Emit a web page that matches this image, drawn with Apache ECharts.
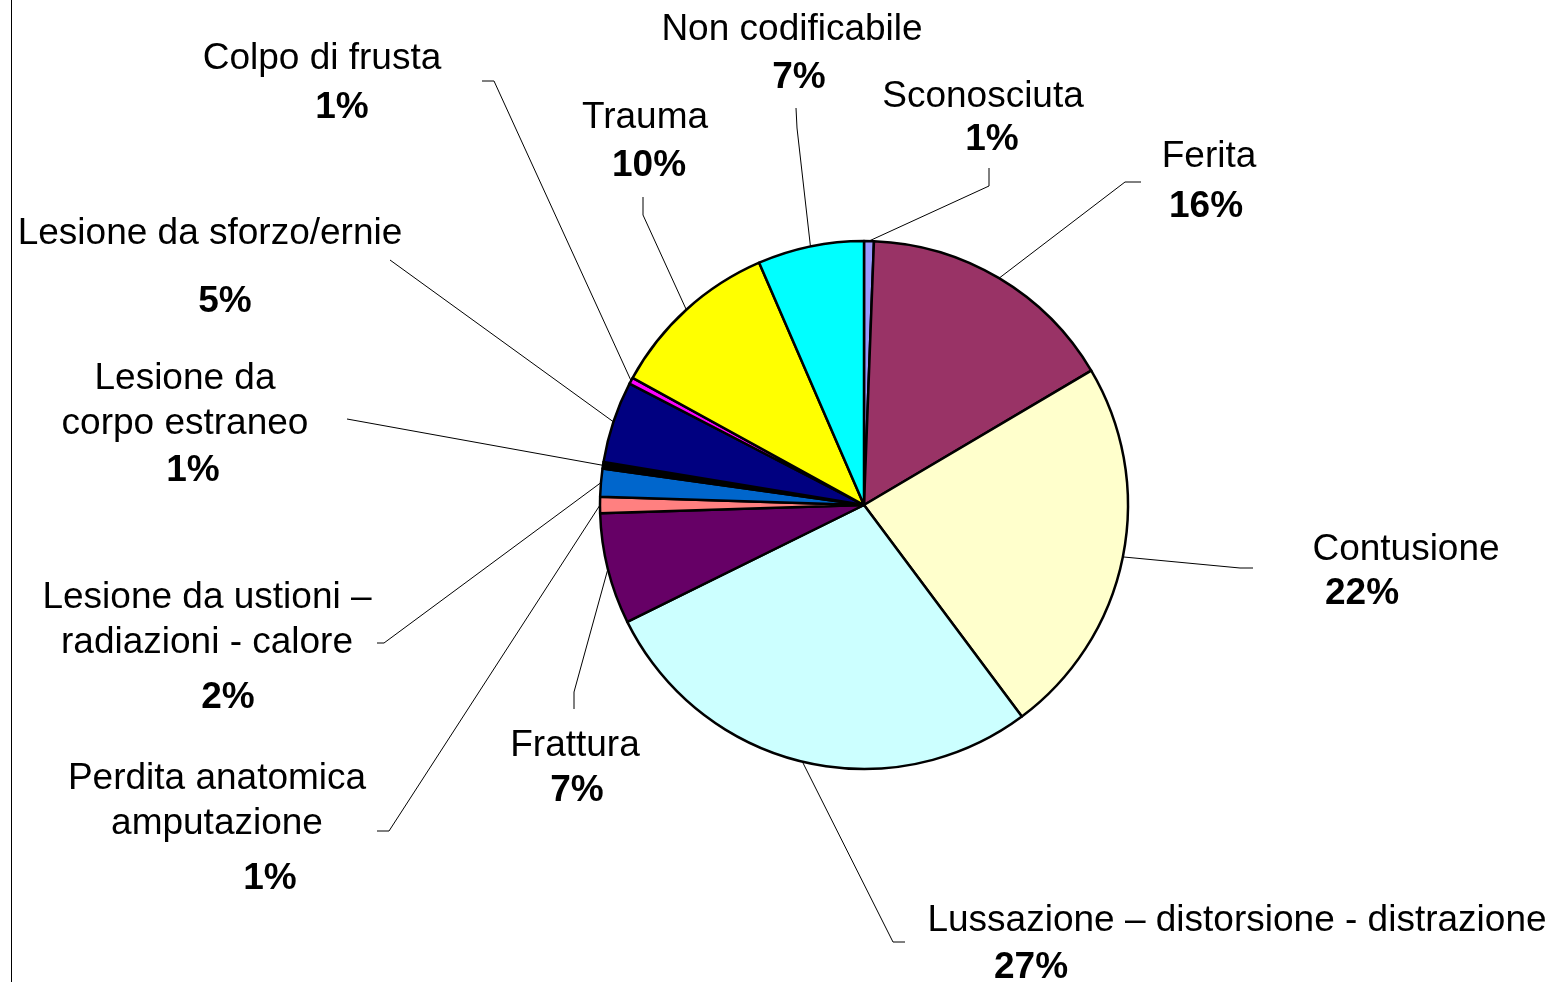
<!DOCTYPE html>
<html>
<head>
<meta charset="utf-8">
<title>Tipologia di lesione</title>
<script src="https://cdn.jsdelivr.net/npm/echarts@6/dist/echarts.min.js"></script>
<style>
  html, body { margin: 0; padding: 0; background: #fff; }
  #chart { width: 1555px; height: 982px; }
</style>
</head>
<body>
<div id="chart"></div>
<script>
// Slices, clockwise from 12 o'clock
const categories = [
  'Sconosciuta',
  'Ferita',
  'Contusione',
  'Lussazione – distorsione - distrazione',
  'Frattura',
  'Perdita anatomica\namputazione',
  'Lesione da ustioni –\nradiazioni - calore',
  'Lesione da\ncorpo estraneo',
  'Lesione da sforzo/ernie',
  'Colpo di frusta',
  'Trauma',
  'Non codificabile'
];
// share of cases (%)
const shares = [0.6, 15.9, 23.3, 27.9, 6.8, 1.0, 1.7, 0.4, 5.0, 0.4, 10.5, 6.5];
// percentages printed on the labels
const pctLabels = ['1%', '16%', '22%', '27%', '7%', '1%', '2%', '1%', '5%', '1%', '10%', '7%'];
const colors = ['#9999FF', '#993366', '#FFFFCC', '#CCFFFF', '#660066', '#FF8080',
                '#0066CC', '#000000', '#000080', '#FF00FF', '#FFFF00', '#00FFFF'];

// label placement: [centre x, first line centre y, percent x shift, percent line height]
const labelBoxes = [
  [983, 94, 9, 41],
  [1209, 154, -3, 55],
  [1406, 547, -44, 43],
  [1237, 918, -206, 49],
  [575, 743, 2, 45],
  [217, 776, 53, 65],
  [207, 595, 21, 65],
  [185, 376, 8, 49],
  [210, 231, 15, 91],
  [322, 56, 20, 53],
  [645, 115, 4, 51],
  [792, 27, 7, 51]
];
// leader line bends after the point on the pie edge
const leaderEnds = [
  [[989, 186], [989, 168]],
  [[1125, 182], [1141, 182]],
  [[1240, 568], [1253, 568]],
  [[893, 942], [905, 942]],
  [[574, 692], [574, 709]],
  [[389, 831], [377, 831]],
  [[384, 643], [377, 643]],
  [[347, 419]],
  [[390, 260]],
  [[494, 81], [482, 81]],
  [[643, 215], [643, 197]],
  [[797, 128], [796, 108]]
];

const FONT = '"Liberation Sans", Arial, sans-serif';

const pieData = categories.map((name, i) => {
  const dx = labelBoxes[i][2];
  const pad = dx >= 0 ? [0, 0, 0, 2 * dx] : [0, -2 * dx, 0, 0];
  const nameText = name.split('\n').map(l => '{n|' + l + '}').join('\n');
  return {
    name: name,
    value: shares[i],
    itemStyle: { color: colors[i] },
    label: {
      formatter: nameText + '\n{p|' + pctLabels[i] + '}',
      rich: {
        n: { fontSize: 37, lineHeight: 45, fontFamily: FONT, color: '#000' },
        p: { fontSize: 37, lineHeight: labelBoxes[i][3], fontWeight: 'bold', fontFamily: FONT, color: '#000', padding: pad }
      }
    }
  };
});

const chart = echarts.init(document.getElementById('chart'), null, { renderer: 'canvas' });

const option = {
  backgroundColor: '#ffffff',
  animation: false,
  graphic: [{
    type: 'line',
    shape: { x1: 11.5, y1: 0, x2: 11.5, y2: 982 },
    style: { stroke: '#000', lineWidth: 1 }
  }],
  series: [{
    type: 'pie',
    center: [864, 505],
    radius: 264,
    startAngle: 90,
    clockwise: true,
    avoidLabelOverlap: false,
    silent: true,
    data: pieData,
    itemStyle: { borderColor: '#000', borderWidth: 2.5 },
    label: { show: true, position: 'outside', align: 'center' },
    labelLine: {
      show: true,
      length: 10,
      length2: 10,
      lineStyle: { color: '#000', width: 1 }
    },
    labelLayout: function (params) {
      const i = params.dataIndex;
      const box = labelBoxes[i];
      const start = params.labelLinePoints ? params.labelLinePoints[0] : leaderEnds[i][0];
      return {
        x: box[0],
        y: box[1] - 20,
        align: 'center',
        verticalAlign: 'top',
        labelLinePoints: [start].concat(leaderEnds[i])
      };
    },
    emphasis: { disabled: true }
  }]
};

chart.setOption(option);
</script>
</body>
</html>
